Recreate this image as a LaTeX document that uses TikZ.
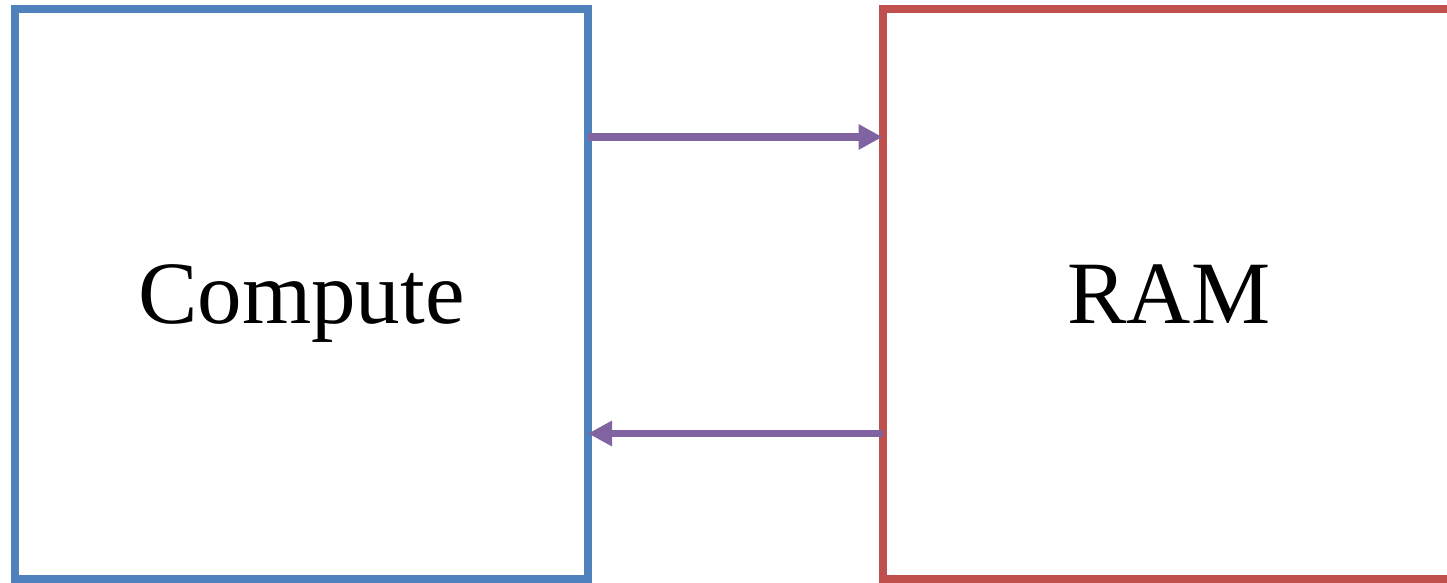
\documentclass[tikz,border=0pt]{standalone}
\usepackage{fontspec}
\setmainfont{Liberation Serif}
\usetikzlibrary{positioning, arrows.meta}

\definecolor{computeblue}{RGB}{79,129,189}
\definecolor{ramred}{RGB}{192,80,77}
\definecolor{busviolet}{RGB}{128,100,162}

\begin{document}
\begin{tikzpicture}[
x=1pt, y=-1pt,
every node/.style={font=\fontsize{89}{100}\selectfont},
unit box/.style={draw, line width=8pt, outer sep=0pt, minimum width=573pt, minimum height=570pt, text height=59pt, text depth=0pt},
arrow/.style={-{Triangle[length=24pt, width=24pt]}, line width=7.5pt, busviolet},
]
\useasboundingbox (0,0) rectangle (1447,583);

% Compute box on the left
\node[unit box, computeblue] (cmp) at (301.5,294) {\color{black}Compute};

% RAM box on the right (runs past the edge)
\node[unit box, ramred, right=294.5pt of cmp] (ram) {\color{black}RAM};

% Requests to RAM, data back
\draw[arrow] ([yshift=157pt]cmp.east) -- ([yshift=157pt]ram.west);
\draw[arrow] ([yshift=-139.5pt]ram.west) -- ([yshift=-139.5pt]cmp.east);
\end{tikzpicture}
\end{document}
